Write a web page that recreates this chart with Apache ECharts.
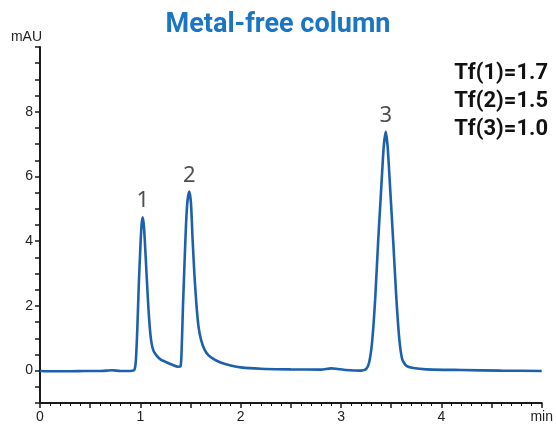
<!DOCTYPE html>
<html><head><meta charset="utf-8">
<script src="https://cdn.jsdelivr.net/npm/echarts@6/dist/echarts.min.js"></script>
<style>html,body{margin:0;padding:0;background:#fff}#c{width:556px;height:424px}</style>
</head><body><div id="c"></div>
<script>
var times = [0,0.15,0.3,0.45,0.6,0.72,0.8,0.9,0.94,
 0.955,0.97,0.985,1.0,1.012,1.024,1.036,1.05,1.065,1.08,1.095,1.11,1.13,1.16,1.2,1.26,1.32,1.375,1.40,
 1.41,1.425,1.44,1.455,1.47,1.488,1.505,1.52,1.54,1.56,1.58,1.605,1.64,1.68,1.74,1.8,1.9,2.0,2.2,2.5,2.8,2.9,2.95,3.05,3.2,3.25,
 3.28,3.31,3.34,3.37,3.40,3.425,3.446,3.465,3.49,3.52,3.55,3.58,3.61,3.65,3.72,3.85,4.2,4.6,5.0];
var signal = [-0.01,-0.02,-0.02,-0.01,-0.01,0.01,-0.01,-0.01,0.02,
 0.3,1.3,2.7,3.8,4.5,4.74,4.45,3.7,2.8,1.95,1.3,0.88,0.62,0.47,0.35,0.26,0.18,0.12,0.13,
 0.5,2.0,3.3,4.5,5.25,5.53,5.15,4.1,2.9,2.0,1.35,0.95,0.65,0.47,0.34,0.25,0.16,0.1,0.06,0.04,0.03,0.07,0.06,0.02,0.0,0.05,
 0.25,0.9,2.2,4.0,5.6,6.9,7.38,6.9,5.6,4.0,2.3,1.0,0.35,0.15,0.08,0.04,0.02,0.0,-0.01];
var peakNames = ['1','2','3'];
var peakTimes = [1.024,1.488,3.446];
var peakHeights = [4.74,5.53,7.38];
var tfLabels = ['Tf(1)=1.7','Tf(2)=1.5','Tf(3)=1.0'];
var yTickLabels = [0,2,4,6,8];
var xTickLabels = ['0','1','2','3','4','min'];
var title = 'Metal-free column';

var chart = echarts.init(document.getElementById('c'));
var lineData = times.map(function(t,i){return [t,signal[i]];});
var peakData = peakTimes.map(function(t,i){return {value:[t,peakHeights[i]],name:peakNames[i]};});
var axisCol = '#1a1a1a';
chart.setOption({
  animation:false,
  title:{text:title,left:'center',top:7,textStyle:{color:'#1a75c4',fontSize:27,fontWeight:'bold',fontFamily:'Roboto'}},
  grid:{left:40,right:13,top:47,bottom:21},
  xAxis:{type:'value',min:0,max:5,interval:0.5,
    axisLine:{onZero:false,lineStyle:{color:axisCol,width:2}},
    axisTick:{show:true,length:5,lineStyle:{color:axisCol,width:1.5}},
    minorTick:{show:true,splitNumber:5,length:3,lineStyle:{color:axisCol,width:1}},
    splitLine:{show:false},
    axisLabel:{margin:7,color:'#222',fontSize:14,fontFamily:'Liberation Sans',
      formatter:function(v){var r=Math.round(v*2);if(r%2!==0)return '';return xTickLabels[r/2]||'';}}},
  yAxis:{type:'value',min:-1,max:10,interval:0.5,name:'mAU',nameLocation:'end',nameGap:3,
    nameTextStyle:{color:'#222',fontSize:14,fontFamily:'Liberation Sans',align:'right',padding:[0,-2,0,0]},
    axisLine:{show:true,onZero:false,lineStyle:{color:axisCol,width:2}},
    axisTick:{show:true,length:5,lineStyle:{color:axisCol,width:1.5}},
    splitLine:{show:false},
    axisLabel:{margin:7,color:'#222',fontSize:14,fontFamily:'Liberation Sans',
      formatter:function(v){return yTickLabels.indexOf(v)>=0?String(v):'';}}},
  series:[
    {type:'line',data:lineData,showSymbol:false,smooth:0.2,
     lineStyle:{color:'#1d60ad',width:2.6},z:3},
    {type:'scatter',data:peakData,symbolSize:0,silent:true,
     label:{show:true,position:'top',distance:5,formatter:'{b}',color:'#222',fontSize:22,fontFamily:'Noto Sans'}}
  ],
  graphic:tfLabels.map(function(s,i){return {type:'text',right:8,top:62+i*28,
    style:{text:s,font:'bold 22px Roboto',fill:'#111',textAlign:'right'}};})
});
</script></body></html>
